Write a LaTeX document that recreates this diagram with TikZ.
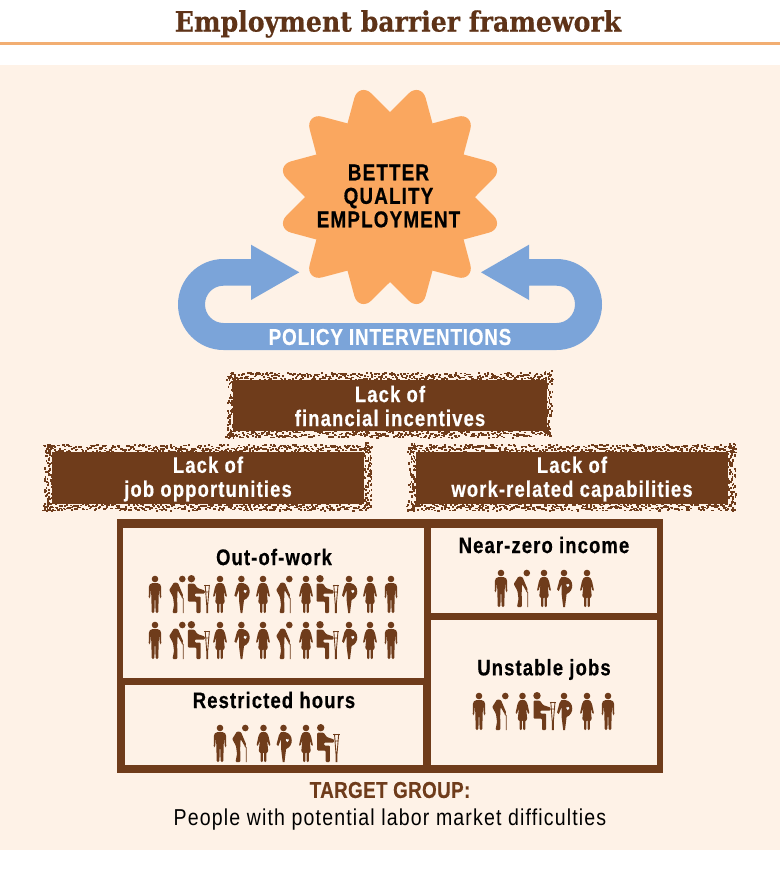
\documentclass[tikz,border=0pt]{standalone}
\usepackage{fontspec}
\usetikzlibrary{calc}
\newfontfamily\condb[FakeStretch=0.82,LetterSpace=5,FakeBold=0.5]{Liberation Sans Bold}
\newfontfamily\condp[FakeStretch=0.82,LetterSpace=3.5,FakeBold=0.5]{Liberation Sans Bold}
\newfontfamily\condt[FakeStretch=0.82,LetterSpace=1.5,FakeBold=0.5]{Liberation Sans Bold}
\newfontfamily\condr[FakeStretch=0.85,LetterSpace=5]{Liberation Sans}
\newfontfamily\slab[FakeStretch=0.9,FakeBold=0.4]{DejaVu Serif Bold}
\definecolor{brn}{HTML}{6F3C1B}
\definecolor{ttl}{HTML}{5E3318}
\definecolor{bgc}{HTML}{FEF2E7}
\definecolor{org}{HTML}{FAA75F}
\definecolor{blu}{HTML}{7BA4D9}
\definecolor{rul}{HTML}{F2AE72}
\tikzset{
 barrier/.style={text=white,align=center,inner sep=0pt,font=\condb\fontsize{22.5}{24}\selectfont},
 heading/.style={text=black,align=center,inner sep=0pt,font=\condb\fontsize{22.5}{24}\selectfont},
}
\newcommand{\speckbox}[4]{% outer x0,y0,x1,y1
 \fill[brn] (#1+8,#2+8) rectangle (#3-8,#4-7);
 \pgfmathsetmacro{\wid}{#3-#1}\pgfmathsetmacro{\hgt}{#4-#2}
 \foreach \t in {0,1.7,...,\wid}{
  \foreach \k in {1,2}{
   \pgfmathsetmacro{\oa}{rnd*8}\pgfmathsetmacro{\ob}{rnd*8}
   \pgfmathsetmacro{\ta}{rnd*1.7}
   \fill[brn] (#1+\t+\ta-1,#2+\oa) rectangle ++(2.2,1.6);
   \fill[brn] (#1+\t-\ta-1,#4-\ob-1) rectangle ++(2.2,1.6);
  }}
 \foreach \t in {0,1.7,...,\hgt}{
  \foreach \k in {1,2}{
   \pgfmathsetmacro{\oa}{rnd*8}\pgfmathsetmacro{\ob}{rnd*8}
   \pgfmathsetmacro{\ta}{rnd*1.7}
   \fill[brn] (#1+\oa,#2+\t+\ta-1) rectangle ++(1.6,2.2);
   \fill[brn] (#3-\ob-1,#2+\t-\ta-1) rectangle ++(1.6,2.2);
  }}
}
\newcommand{\iman}[2]{\begin{scope}[shift={(#1,#2)},brn]
 \fill (0,4) circle (3.3);
 \fill[rounded corners=1.2] (-4,8.2) -- (4,8.2) -- (6,10.5) -- (6.3,23) -- (4.9,23) -- (4,13) -- (3.6,24) -- (3.3,38) -- (0.6,38) -- (0.3,24) -- (-0.3,24) -- (-0.6,38) -- (-3.3,38) -- (-3.6,24) -- (-4,13) -- (-4.9,23) -- (-6.3,23) -- (-6,10.5) -- cycle;
\end{scope}}
\newcommand{\iwom}[2]{\begin{scope}[shift={(#1,#2)},brn]
 \fill (0,4) circle (3.3);
 \fill[rounded corners=1] (-3,8.2) -- (3,8.2) -- (5,12) -- (7,21.5) -- (5.6,22) -- (3.6,16) -- (4.8,28) -- (3,28) -- (2.9,38) -- (0.6,38) -- (0.5,28) -- (-0.5,28) -- (-0.6,38) -- (-2.9,38) -- (-3,28) -- (-4.8,28) -- (-3.6,16) -- (-5.6,22) -- (-7,21.5) -- (-5,12) -- cycle;
\end{scope}}
\newcommand{\ipre}[2]{\begin{scope}[shift={(#1,#2)},brn]
 \fill (0,4) circle (3.3);
 \fill (-2.6,8.2) -- (2,8.2) .. controls (10,10) and (10.5,22) .. (2.6,25) -- (1,38) -- (-0.8,38) -- (-2.4,25) -- (-2.4,15) -- (-5.2,22) -- (-7,20.5) -- (-4.5,11) -- cycle;
 \fill[white] (3.8,18.2) -- (2.3,16.2) .. controls (2,14.8) and (3.4,14.5) .. (3.8,15.5) .. controls (4.2,14.5) and (5.6,14.8) .. (5.3,16.2) -- cycle;
\end{scope}}
\newcommand{\iold}[2]{\begin{scope}[shift={(#1,#2)},brn]
 \fill (4.3,4) circle (3.3);
 \fill[rounded corners=1] (-4,7.4) -- (0,8) -- (5.4,21) -- (4,22.5) -- (-0.4,15) -- (-0.8,24) -- (-0.6,38) -- (-5.5,38) -- (-4,30) -- (-5,22) -- (-8.8,15) -- cycle;
 \draw[line width=0.9] (3.6,21.6) .. controls (4.4,21.6) and (5.2,22.2) .. (5.2,23.5) -- (5.2,38);
\end{scope}}
\newcommand{\isea}[2]{\begin{scope}[shift={(#1,#2)},brn]
 \fill (-6,3.7) circle (3.7);
 \fill[rounded corners=1] (-9.5,8.6) -- (-3,8.6) -- (0,13) -- (7.5,15.5) -- (7.5,18.5) -- (-2.6,18.5) -- (-2.6,21.5) -- (3.2,21.5) -- (3.2,38) -- (-1,38) -- (-1,26.5) -- (-9.5,26.5) -- cycle;
 \draw[line width=1] (6.6,10) -- (13,10);
 \draw[line width=0.9] (7.8,10) -- (9.3,30) -- (9.3,38) (12,10) -- (10.3,30) -- (10.3,38) (8,17) -- (12,17);
\end{scope}}
\begin{document}
\begin{tikzpicture}[x=1pt,y=-1pt]
\useasboundingbox (0,0) rectangle (780,876);
\fill[white] (0,0) rectangle (780,876);
\fill[bgc] (0,65) rectangle (780,850);
\fill[rul] (0,41.5) rectangle (780,44.5);
\node[inner sep=0pt,text=ttl,font=\slab\fontsize{28}{30}\selectfont] (title) at (398,24) {Employment barrier framework};
% star
\begin{scope}[shift={(390,197)}]
\fill[org] (0:85) \foreach \a in {0,30,...,330}{
  -- ($(\a:85)!0.6!(\a+15:120)$) .. controls ($(\a:85)!0.8!(\a+15:120)$) and ($(\a+30:85)!0.8!(\a+15:120)$) .. ($(\a+30:85)!0.6!(\a+15:120)$) -- (\a+30:85)} -- cycle;
\end{scope}
\node[inner sep=0pt,align=center,text=black,font=\condb\fontsize{23}{23.5}\selectfont] (goal) at (388.5,196) {BETTER\\QUALITY\\EMPLOYMENT};
% arrow
\fill[blu] (251,259) -- (251,244.7) -- (299.3,272.3) -- (251,300) -- (251,285.7) -- (223.5,285.7)
 .. controls (213.2,285.7) and (205,294) .. (205,304.4) .. controls (205,314.7) and (213.2,323) .. (223.5,323)
 -- (556.5,323) .. controls (566.8,323) and (575,314.7) .. (575,304.4) .. controls (575,294) and (566.8,285.7) .. (556.5,285.7)
 -- (529,285.7) -- (529,300) -- (481,272.3) -- (529,244.7) -- (529,259) -- (556.5,259)
 .. controls (581.6,259) and (602,279.4) .. (602,304.5) .. controls (602,329.6) and (581.6,350) .. (556.5,350)
 -- (223.5,350) .. controls (198.4,350) and (178,329.6) .. (178,304.5) .. controls (178,279.4) and (198.4,259) .. (223.5,259) -- cycle;
\node[barrier,font=\condp\fontsize{23}{24}\selectfont] (policy) at (390,337) {POLICY INTERVENTIONS};
% barrier boxes
\pgfmathsetseed{7}
\speckbox{227}{372}{553}{438}
\fill[brn] (233,380) rectangle (547,431);
\speckbox{44}{444}{372}{511}
\speckbox{408}{444}{736}{511}
\node[barrier] (fin) at (390,406) {Lack of\\financial incentives};
\node[barrier] (job) at (208,479) {Lack of\\job opportunities};
\node[barrier] (cap) at (572,479) {Lack of\\work-related capabilities};
% frame
\fill[brn] (117,519) rectangle (663,773);
\fill[bgc] (123,528) rectangle (424,678);
\fill[bgc] (125,685) rectangle (423,765);
\fill[bgc] (431,528) rectangle (657,613);
\fill[bgc] (431,620) rectangle (657,765);
\node[heading] (out) at (274,557) {Out-of-work};
\node[heading] (near) at (544,545) {Near-zero income};
\node[heading] (rest) at (274,700) {Restricted hours};
\node[heading] (unst) at (544,669.5) {Unstable jobs};
% people
\foreach \y in {575,621}{
 \iman{155}{\y}\iold{178}{\y}\isea{197.4}{\y}\iwom{220}{\y}\ipre{241.4}{\y}\iwom{263}{\y}
 \iold{285}{\y}\iwom{306}{\y}\isea{326}{\y}\ipre{349}{\y}\iwom{370}{\y}\iman{391}{\y}
}
\iman{501}{569}\iold{522.5}{569}\iwom{544}{569}\ipre{564}{569}\iwom{587}{569}
\iman{479}{692}\iold{501}{692}\iwom{522.5}{692}\isea{543}{692}\ipre{564}{692}\iwom{587}{692}\iman{608}{692}
\iman{220}{724}\iold{241}{724}\iwom{263.5}{724}\ipre{283.5}{724}\iwom{306}{724}\isea{326.7}{724}
% caption
\node[inner sep=0pt,text=brn,font=\condt\fontsize{23}{24}\selectfont] (tg) at (390,790) {TARGET GROUP:};
\node[inner sep=0pt,text=black,font=\condr\fontsize{23}{24}\selectfont] (tgd) at (390,820) {People with potential labor market difficulties};
\end{tikzpicture}
\end{document}
